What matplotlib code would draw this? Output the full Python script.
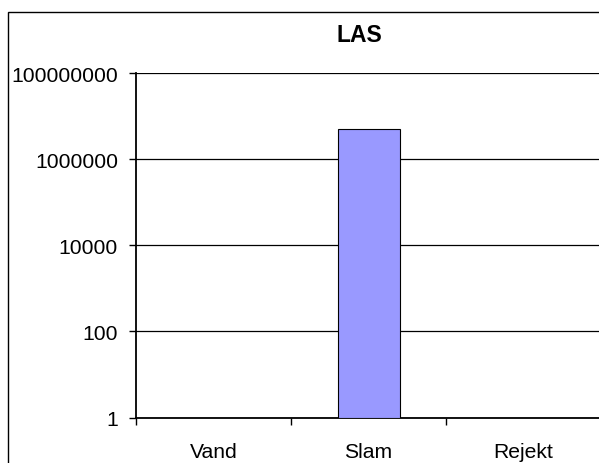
import matplotlib
matplotlib.use("Agg")
import matplotlib.pyplot as plt
import numpy as np
from matplotlib.patches import Rectangle
from matplotlib.ticker import FixedLocator, FuncFormatter

plt.rcParams.update({
    "font.family": ["Liberation Sans", "DejaVu Sans"],
    "text.color": "#000000",
})

categories = ["Vand", "Slam", "Rejekt"]
values = [0, 5.1e6, 0]
y_ticks = [1, 100, 10000, 1000000, 100000000]

W, H = 599, 464
fig = plt.figure(figsize=(W / 100, H / 100), dpi=100)

# chart area border (runs off the right and bottom of the crop)
fig.patches.append(Rectangle((8 / W, -0.1), 1.2, 1 - 13 / H + 0.1,
                             transform=fig.transFigure, fill=False,
                             edgecolor="black", linewidth=1.0))

left, right, top, bottom = 136, 601, 74, 418.5
ax = fig.add_axes([left / W, (H - bottom) / H, (right - left) / W, (bottom - top) / H])

x = np.arange(len(categories))
vals = np.array(values, dtype=float)
mask = vals > 0
ax.bar(x[mask], vals[mask], width=0.4, bottom=1, color="#9999FF",
       edgecolor="black", linewidth=0.8, zorder=3)

ax.set_yscale("log")
ax.set_ylim(1, 1e8)
ax.set_xlim(-0.5, len(categories) - 0.5)
ax.yaxis.set_major_locator(FixedLocator(y_ticks))
ax.yaxis.set_minor_locator(FixedLocator([]))
ax.yaxis.set_major_formatter(FuncFormatter(lambda v, p: f"{v:.0f}"))
ax.yaxis.grid(True, color="black", linewidth=0.9)
ax.set_axisbelow(True)

ax.set_xticks(x)
ax.set_xticklabels(categories)
ax.set_xticks(np.arange(len(categories) + 1) - 0.5, minor=True)
ax.tick_params(axis="x", which="major", length=0, pad=18, labelsize=15.2)
ax.tick_params(axis="x", which="minor", length=5, width=1.0, direction="out")
ax.tick_params(axis="y", length=5, width=1.0, direction="out", pad=8, labelsize=15.2)

for s in ["top", "right"]:
    ax.spines[s].set_visible(False)
for s in ["left", "bottom"]:
    ax.spines[s].set_linewidth(1.3)

fig.text(359 / W, 1 - 35.5 / H, "LAS", ha="center", va="center",
         fontsize=16.5, fontweight="bold")

fig.savefig("out.png", dpi=100)
